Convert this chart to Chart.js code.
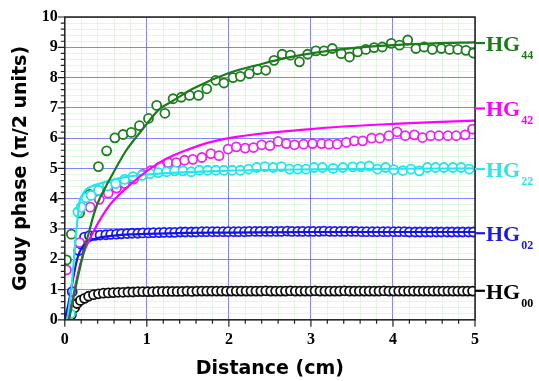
<!DOCTYPE html>
<html>
<head>
<meta charset="utf-8">
<script src="https://cdn.jsdelivr.net/npm/chart.js@4"></script>
<style>
  html, body { margin: 0; padding: 0; background: #fff; }
</style>
</head>
<body>
<canvas id="gouy" width="539" height="381"></canvas>
<script>
// measured points (distance in cm, phase in pi/2 units)
const hg00X = [0.08,0.12,0.15,0.19,0.24,0.29,0.35,0.41,
  0.47,0.53,0.59,0.65,0.71,0.77,0.83,0.89,0.95,1.01,
  1.07,1.13,1.19,1.25,1.31,1.37,1.43,1.49,1.55,1.61,
  1.67,1.73,1.79,1.85,1.91,1.97,2.03,2.09,2.15,2.21,
  2.27,2.33,2.39,2.45,2.51,2.57,2.63,2.69,2.75,2.81,
  2.87,2.93,2.99,3.05,3.11,3.17,3.23,3.29,3.35,3.41,
  3.47,3.53,3.59,3.65,3.71,3.77,3.83,3.89,3.95,4.01,
  4.07,4.13,4.19,4.25,4.31,4.37,4.43,4.49,4.55,4.61,
  4.67,4.73,4.79,4.85,4.91,4.97];
const hg00Y = [0.16,0.40,0.54,0.64,0.71,0.78,0.83,0.86,
  0.88,0.89,0.90,0.91,0.91,0.92,0.92,0.93,0.93,0.93,
  0.93,0.94,0.94,0.94,0.94,0.94,0.94,0.95,0.94,0.95,
  0.95,0.95,0.95,0.95,0.95,0.95,0.95,0.95,0.95,0.95,
  0.95,0.95,0.95,0.96,0.95,0.95,0.95,0.95,0.96,0.95,
  0.95,0.95,0.95,0.96,0.95,0.95,0.95,0.95,0.95,0.96,
  0.95,0.95,0.95,0.95,0.95,0.95,0.95,0.96,0.95,0.95,
  0.95,0.95,0.95,0.95,0.95,0.95,0.95,0.95,0.95,0.95,
  0.95,0.95,0.95,0.95,0.95,0.95];

const hg02X = [0.09,0.17,0.20,0.24,
  0.30,0.37,0.43,0.50,0.56,0.63,0.69,0.76,0.82,0.89,0.95,
  1.02,1.08,1.15,1.21,1.28,1.34,1.41,1.47,1.54,1.60,1.67,1.73,1.80,1.86,1.93,
  1.99,2.06,2.12,2.19,2.25,2.32,2.38,2.45,2.51,2.58,2.64,2.71,2.77,2.84,2.90,2.97,
  3.03,3.10,3.16,3.23,3.29,3.36,3.42,3.49,3.55,3.62,3.68,3.75,3.81,3.88,3.94,
  4.01,4.07,4.14,4.20,4.27,4.33,4.40,4.46,4.53,4.59,4.66,4.72,4.79,4.85,4.92,4.98];
const hg02Y = [0.93,2.29,2.50,2.73,
  2.78,2.79,2.80,2.81,2.82,2.83,2.84,2.85,2.86,2.86,2.87,
  2.87,2.88,2.88,2.89,2.89,2.89,2.90,2.90,2.90,2.90,2.91,2.91,2.91,2.91,2.91,
  2.91,2.91,2.91,2.91,2.92,2.92,2.92,2.92,2.92,2.92,2.92,2.93,2.92,2.92,2.92,2.92,
  2.92,2.92,2.93,2.92,2.92,2.92,2.92,2.92,2.92,2.91,2.91,2.91,2.91,2.91,2.91,
  2.91,2.91,2.91,2.90,2.90,2.90,2.90,2.90,2.90,2.90,2.90,2.90,2.90,2.90,2.90,2.90];

const hg22X = [0.07,0.16,0.20,0.26,0.32,0.41,0.52,0.62,0.73,0.83,0.94,1.04,1.14,
  1.24,1.34,1.44,1.54,1.64,1.74,1.84,1.94,2.04,2.14,2.24,2.34,2.44,2.54,2.64,2.74,
  2.84,2.94,3.04,3.14,3.27,3.39,3.51,3.61,3.71,3.81,3.91,4.01,4.12,4.22,4.32,4.42,
  4.52,4.62,4.73,4.83,4.93];
const hg22Y = [0.20,3.57,3.72,4.03,4.11,4.28,4.42,4.50,4.64,4.73,4.77,4.83,4.86,
  4.89,4.92,4.92,4.89,4.94,4.94,4.94,4.94,4.94,4.94,4.98,5.03,5.06,5.03,5.06,4.98,
  4.98,4.98,5.03,5.03,5.00,5.03,5.05,5.06,5.08,4.98,5.03,4.96,4.93,4.98,4.92,5.03,
  5.03,5.03,5.03,5.03,4.98];

const hg42X = [0.02,0.18,0.31,0.42,0.53,0.63,0.73,0.84,0.95,1.05,1.16,1.26,1.36,
  1.46,1.56,1.67,1.78,1.88,1.99,2.09,2.20,2.30,2.40,2.50,2.60,2.70,2.80,2.91,3.02,
  3.13,3.22,3.32,3.43,3.53,3.63,3.74,3.84,3.95,4.05,4.15,4.26,4.36,4.46,4.56,4.67,
  4.77,4.88,4.97];
const hg42Y = [1.65,2.55,3.72,3.98,4.18,4.35,4.50,4.65,4.80,4.93,5.05,5.19,5.19,
  5.27,5.30,5.36,5.49,5.42,5.64,5.71,5.67,5.69,5.78,5.75,5.89,5.82,5.78,5.80,5.82,
  5.82,5.80,5.80,5.86,5.91,5.91,6.00,6.00,6.08,6.21,6.08,6.11,6.02,6.08,6.08,6.08,
  6.08,6.11,6.30];

const hg44X = [0.02,0.08,0.18,0.30,0.41,0.51,0.61,0.71,0.81,0.91,1.02,1.12,1.22,
  1.32,1.42,1.52,1.63,1.73,1.84,1.94,2.05,2.14,2.25,2.35,2.45,2.55,2.65,2.75,2.86,
  2.96,3.06,3.16,3.26,3.37,3.47,3.57,3.67,3.77,3.87,3.98,4.08,4.18,4.28,4.38,4.48,
  4.59,4.69,4.79,4.89,4.98];
const hg44Y = [1.98,2.83,3.53,4.14,5.06,5.58,6.01,6.12,6.19,6.41,6.65,7.08,6.82,
  7.30,7.35,7.41,7.41,7.63,7.91,7.82,8.00,8.04,8.13,8.26,8.24,8.57,8.77,8.74,8.52,
  8.77,8.88,8.88,8.96,8.79,8.68,8.85,8.93,8.99,9.01,9.13,9.07,9.24,8.96,9.01,8.93,
  8.96,8.93,8.93,8.90,8.81];

// fitted curves
const fit02X = [0,0.05,0.10,0.15,0.20,0.30,0.40,0.60,0.80,1.0,1.5,2.0,3.0,4.0,5.0];
const fit02Y = [0,0.60,1.35,2.00,2.35,2.60,2.70,2.78,2.82,2.84,2.87,2.88,2.90,2.90,2.90];
const fit22X = [0.03,0.08,0.12,0.15,0.18,0.22,0.26,0.32,0.40,0.55,0.75,1.0,1.5,2.0,3.0,4.0,5.0];
const fit22Y = [0,1.00,2.30,3.20,3.90,4.15,4.31,4.40,4.48,4.60,4.72,4.80,4.88,4.93,4.97,4.99,5.00];
const fit42X = [0.05,0.10,0.15,0.20,0.25,0.30,0.35,0.45,0.55,0.65,0.75,0.90,1.1,1.3,1.5,1.75,2.0,2.5,3.0,3.5,4.0,4.5,5.0];
const fit42Y = [0,0.75,1.40,1.95,2.35,2.65,2.92,3.40,3.80,4.10,4.35,4.70,5.10,5.40,5.62,5.85,6.00,6.18,6.30,6.40,6.47,6.53,6.58];
const fit44X = [0.05,0.10,0.15,0.20,0.25,0.30,0.35,0.40,0.50,0.60,0.75,0.95,1.15,1.30,1.56,2.0,2.4,2.7,3.0,3.5,4.0,4.5,5.0];
const fit44Y = [0,0.65,1.30,1.90,2.45,2.95,3.45,3.85,4.40,4.90,5.60,6.30,6.95,7.20,7.63,8.15,8.45,8.65,8.80,8.97,9.07,9.13,9.16];

// right-hand mode labels
const modeNames = ['44', '42', '22', '02', '00'];
const modeLabelY = [9.14, 6.98, 4.98, 2.86, 0.96];
const modeColors = ['#1b7a1b', '#ff00ff', '#33e3e3', '#1a1ae6', '#000000'];

function pts(xs, ys) {
  return xs.map((x, i) => ({ x: x, y: ys[i] }));
}

function isMajor(v) {
  return Math.abs(v - Math.round(v)) < 1e-6;
}

function circles(xs, ys, color, order) {
  return {
    data: pts(xs, ys),
    showLine: false,
    pointRadius: 4.5,
    pointBorderWidth: 1.8,
    pointBorderColor: color,
    pointBackgroundColor: '#ffffff',
    order: order
  };
}

function fitLine(xs, ys, color) {
  return {
    data: pts(xs, ys),
    showLine: true,
    pointRadius: 0,
    borderColor: color,
    borderWidth: 2.2,
    cubicInterpolationMode: 'monotone',
    fill: false,
    order: 0
  };
}

const decor = {
  id: 'decor',
  afterDraw(chart) {
    const ctx = chart.ctx;
    const a = chart.chartArea;
    const xs = chart.scales.x, ys = chart.scales.y;
    ctx.save();
    ctx.strokeStyle = '#222';
    ctx.lineWidth = 1.5;
    ctx.strokeRect(a.left, a.top, a.right - a.left, a.bottom - a.top);
    ctx.lineWidth = 1.2;
    ctx.beginPath();
    xs.ticks.forEach(t => {
      const px = xs.getPixelForValue(t.value);
      const len = isMajor(t.value) ? 7 : 4;
      ctx.moveTo(px, a.bottom);
      ctx.lineTo(px, a.bottom + len);
    });
    ys.ticks.forEach(t => {
      const py = ys.getPixelForValue(t.value);
      const len = isMajor(t.value) ? 7 : 4;
      ctx.moveTo(a.left, py);
      ctx.lineTo(a.left - len, py);
    });
    ctx.stroke();

    modeNames.forEach((n, i) => {
      const py = ys.getPixelForValue(modeLabelY[i]);
      ctx.strokeStyle = modeColors[i];
      ctx.fillStyle = modeColors[i];
      ctx.lineWidth = 2.2;
      ctx.beginPath();
      ctx.moveTo(a.right, py);
      ctx.lineTo(a.right + 10, py);
      ctx.stroke();
      ctx.font = 'bold 22px "Liberation Serif"';
      ctx.textBaseline = 'alphabetic';
      ctx.textAlign = 'left';
      ctx.fillText('HG', a.right + 11, py + 8);
      const w = ctx.measureText('HG').width;
      ctx.font = 'bold 12px "Liberation Serif"';
      ctx.fillText(n, a.right + 12 + w, py + 16);
    });
    ctx.restore();
  }
};

const gridColor = c => isMajor(c.tick.value) ? 'rgba(90,90,255,0.75)' : 'rgba(175,235,175,0.35)';
const tickLabel = v => isMajor(v) ? String(Math.round(v)) : '';

new Chart(document.getElementById('gouy'), {
  type: 'scatter',
  data: {
    datasets: [
      fitLine(fit44X, fit44Y, '#1b7a1b'),
      fitLine(fit42X, fit42Y, '#ff00ff'),
      fitLine(fit22X, fit22Y, '#22e5ee'),
      fitLine(fit02X, fit02Y, '#1010f0'),
      circles(hg22X, hg22Y, '#22e5e5', 1),
      circles(hg44X, hg44Y, '#1e7d1e', 2),
      circles(hg42X, hg42Y, '#ee22ee', 3),
      circles(hg02X, hg02Y, '#1a1aff', 4),
      circles(hg00X, hg00Y, '#111111', 5)
    ]
  },
  options: {
    responsive: false,
    devicePixelRatio: 1,
    animation: false,
    layout: { padding: { left: 8, right: 64, top: 17, bottom: 0 } },
    plugins: { legend: { display: false }, tooltip: { enabled: false } },
    scales: {
      x: {
        type: 'linear', min: 0, max: 5,
        border: { display: false },
        grid: { color: gridColor, lineWidth: 1, drawTicks: false },
        ticks: {
          stepSize: 0.2, autoSkip: false, maxRotation: 0, padding: 10,
          color: '#000', font: { family: 'Liberation Serif', weight: 'bold', size: 16 },
          callback: tickLabel
        },
        title: {
          display: true, text: 'Distance (cm)', color: '#000',
          font: { family: 'DejaVu Sans', weight: 'bold', size: 19, lineHeight: 1.05 },
          padding: { top: 0, bottom: 2 }
        }
      },
      y: {
        type: 'linear', min: 0, max: 10,
        border: { display: false },
        grid: { color: gridColor, lineWidth: 1, drawTicks: false },
        ticks: {
          stepSize: 0.2, autoSkip: false, padding: 7,
          color: '#000', font: { family: 'Liberation Serif', weight: 'bold', size: 16 },
          callback: tickLabel
        },
        title: {
          display: true, text: 'Gouy phase (π/2 units)', color: '#000',
          font: { family: 'DejaVu Sans', weight: 'bold', size: 19 },
          padding: { top: 2, bottom: 2 }
        }
      }
    }
  },
  plugins: [decor]
});
</script>
</body>
</html>
